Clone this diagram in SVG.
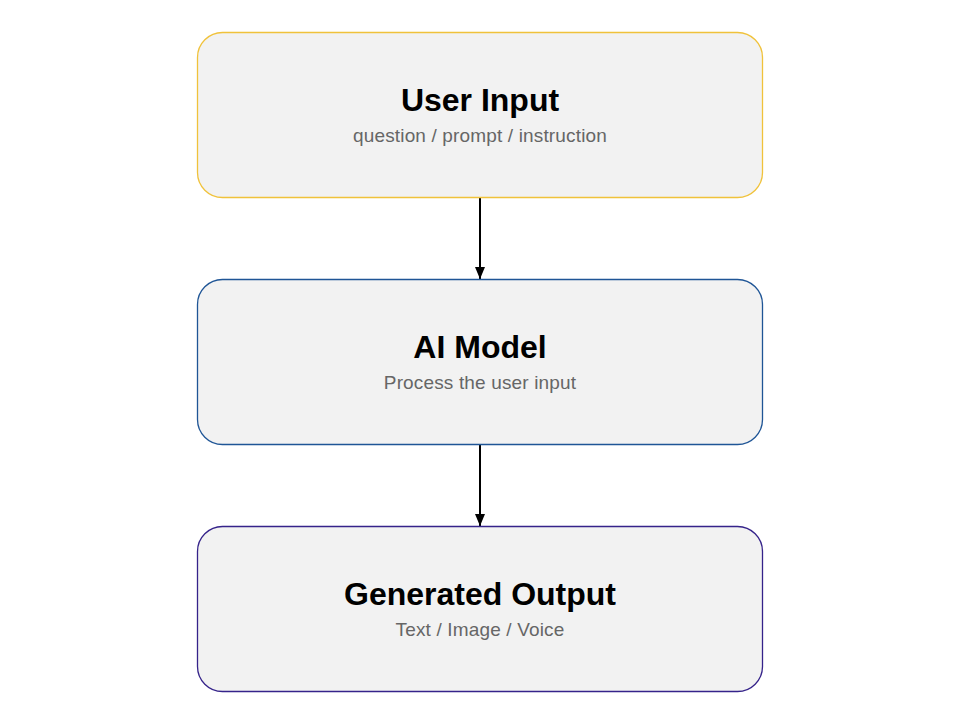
<svg xmlns="http://www.w3.org/2000/svg" width="960" height="720" viewBox="0 0 960 720">
<defs>
<style>
.box{fill:#f2f2f2;stroke-width:1.3}
.t{font-family:"Liberation Sans",Arial,sans-serif;font-weight:bold;font-size:32px;fill:#000;text-anchor:middle}
.s{font-family:"Liberation Sans",Arial,sans-serif;font-size:19px;fill:#666;text-anchor:middle;letter-spacing:0.15px}
.c{stroke:#000;stroke-width:2;fill:none}
</style>
<marker id="ah" viewBox="0 0 12 10" refX="12" refY="5" markerWidth="6" markerHeight="5" orient="auto" markerUnits="strokeWidth">
<path d="M0,0 L12,5 L0,10 z" fill="#000"/>
</marker>
</defs>
<rect width="960" height="720" fill="#fff"/>
<g id="connectors">
<line class="c" x1="480" y1="197.5" x2="480" y2="279" marker-end="url(#ah)"/>
<line class="c" x1="480" y1="444.5" x2="480" y2="526" marker-end="url(#ah)"/>
</g>
<g id="user-input">
<rect class="box" x="197.5" y="32.5" width="565" height="165" rx="25" stroke="#f0c23b"/>
<text class="t" x="480" y="111">User Input</text>
<text class="s" x="480" y="141.5">question / prompt / instruction</text>
</g>
<g id="ai-model">
<rect class="box" x="197.5" y="279.5" width="565" height="165" rx="25" stroke="#1f5596"/>
<text class="t" x="480" y="358">AI Model</text>
<text class="s" x="480" y="388.5">Process the user input</text>
</g>
<g id="generated-output">
<rect class="box" x="197.5" y="526.5" width="565" height="165" rx="25" stroke="#35238a"/>
<text class="t" x="480" y="605">Generated Output</text>
<text class="s" x="480" y="635.5">Text / Image / Voice</text>
</g>
</svg>
